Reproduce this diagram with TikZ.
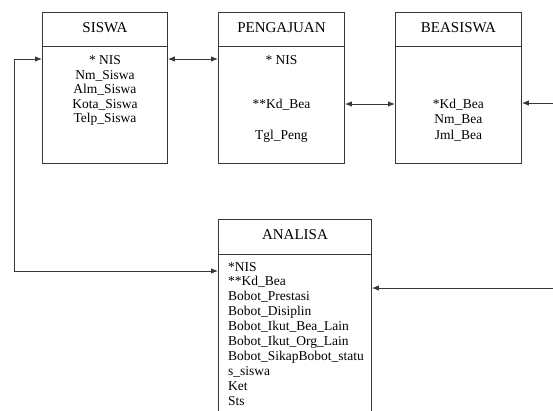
\documentclass[tikz,border=0pt]{standalone}
\usepackage{fontspec}
\setmainfont{Liberation Serif}
\usetikzlibrary{arrows.meta,calc}
\begin{document}
\begin{tikzpicture}[x=1pt,y=-1pt,
  edge/.style={draw=black!78, line width=0.9pt},
  entity/.style={edge, rectangle, anchor=north west, inner sep=0pt},
  head/.style={anchor=base, inner sep=0pt, font=\fontsize{15}{17}\selectfont},
  attr/.style={anchor=base, inner sep=0pt, font=\fontsize{13.5}{15}\selectfont},
  attrl/.style={attr, anchor=base west},
  conn/.style={edge, arrows={-}, >={Latex[length=7pt,width=5.5pt]}}]
\useasboundingbox (0,0) rectangle (553,410);
\clip (0,0) rectangle (553,410);

% entity boxes
\node[entity, minimum width=125pt, minimum height=151pt] (siswa) at (42,12) {};
\node[entity, minimum width=126pt, minimum height=151pt] (peng) at (218,12) {};
\node[entity, minimum width=126pt, minimum height=151pt] (bea) at (395,12) {};
\node[entity, minimum width=153pt, minimum height=220pt] (analisa) at (218,219) {};

% header separators
\foreach \b in {siswa,peng,bea}
  \draw[edge] ($(\b.north west)+(0,34)$) -- ($(\b.north east)+(0,34)$);
\draw[edge] ($(analisa.north west)+(0,35)$) -- ($(analisa.north east)+(0,35)$);

% headers
\node[head] (hs) at ($(siswa.north)+(0,20)$) {SISWA};
\node[head] (hp) at ($(peng.north)+(0,20)$) {PENGAJUAN};
\node[head] (hb) at ($(bea.north)+(0,20)$) {BEASISWA};
\node[head] (ha) at ($(analisa.north)+(0,20)$) {ANALISA};

% SISWA attributes
\node[attr] (s1) at ($(siswa.north)+(0,52)$) {* NIS};
\node[attr] (s2) at ($(siswa.north)+(0,67)$) {Nm\_Siswa};
\node[attr] (s3) at ($(siswa.north)+(0,81)$) {Alm\_Siswa};
\node[attr] (s4) at ($(siswa.north)+(0,96)$) {Kota\_Siswa};
\node[attr] (s5) at ($(siswa.north)+(0,110)$) {Telp\_Siswa};

% PENGAJUAN attributes
\node[attr] (p1) at ($(peng.north)+(0,52)$) {* NIS};
\node[attr] (p2) at ($(peng.north)+(0,96)$) {**Kd\_Bea};
\node[attr] (p3) at ($(peng.north)+(0,127)$) {Tgl\_Peng};

% BEASISWA attributes
\node[attr] (b1) at ($(bea.north)+(0,96)$) {*Kd\_Bea};
\node[attr] (b2) at ($(bea.north)+(0,111)$) {Nm\_Bea};
\node[attr] (b3) at ($(bea.north)+(0,127)$) {Jml\_Bea};

% ANALISA attributes
\foreach \t [count=\i] in {*NIS,**Kd\_Bea,Bobot\_Prestasi,Bobot\_Disiplin,
    Bobot\_Ikut\_Bea\_Lain,Bobot\_Ikut\_Org\_Lain,Bobot\_SikapBobot\_statu,
    s\_siswa,Ket,Sts}
  \node[attrl] (a\i) at ($(analisa.north west)+(10,52+14.9*\i-14.9)$) {\t};

% connectors
\draw[conn,<->] ($(siswa.north east)+(0,47)$) -- ($(peng.north west)+(0,47)$);
\draw[conn,<->] ($(peng.north east)+(0,92)$) -- ($(bea.north west)+(0,92)$);

\coordinate (rb) at (556,103);
\draw[conn,->] (rb) -- (bea.east |- rb);

\coordinate (ra) at (556,288);
\draw[conn,->] (ra) -- (analisa.east |- ra);

\coordinate (sIn) at ($(siswa.north west)+(0,47)$);
\coordinate (aIn) at ($(analisa.north west)+(0,52)$);
\coordinate (rail) at (14,0);
\draw[conn,<->] (sIn) -- (rail |- sIn) -- (rail |- aIn) -- (aIn);
\end{tikzpicture}
\end{document}
